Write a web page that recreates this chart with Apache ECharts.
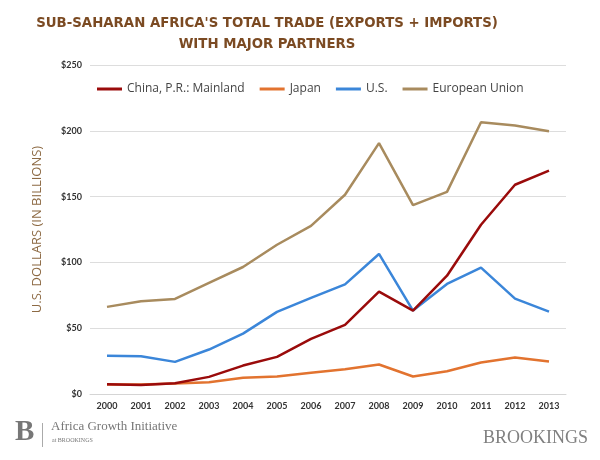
<!DOCTYPE html>
<html><head><meta charset="utf-8">
<script src="https://cdn.jsdelivr.net/npm/echarts@6/dist/echarts.min.js"></script>
<style>html,body{margin:0;padding:0;background:#fff}#c{width:600px;height:460px}</style>
</head><body><div id="c"></div>
<script>
var years = ['2000','2001','2002','2003','2004','2005','2006','2007','2008','2009','2010','2011','2012','2013'];
var china = [7.4, 6.8, 8.2, 13.0, 21.6, 28.2, 41.9, 52.5, 77.8, 63.4, 89.9, 128.6, 159.0, 169.8];
var japan = [7.2, 7.3, 8.0, 9.0, 12.3, 13.3, 16.1, 18.8, 22.4, 13.3, 17.3, 23.9, 27.7, 24.7];
var us = [29.0, 28.7, 24.4, 33.8, 45.9, 62.4, 73.0, 83.3, 106.4, 63.4, 83.6, 96.0, 72.5, 62.6];
var eu = [66.2, 70.4, 72.2, 84.4, 96.5, 113.4, 127.8, 151.4, 190.6, 143.5, 153.6, 206.5, 204.0, 199.7];
var seriesNames = ['China, P.R.: Mainland', 'Japan', 'U.S.', 'European Union'];
var yTicks = [0, 50, 100, 150, 200, 250];

var chart = echarts.init(document.getElementById('c'), null, {renderer: 'canvas'});
function line(name, data, color, z) {
  return {name: name, type: 'line', data: data, symbol: 'none', z: z,
    lineStyle: {color: color, width: 2.5}, itemStyle: {color: color}};
}
chart.setOption({
  animation: false,
  title: {
    text: "SUB-SAHARAN AFRICA'S TOTAL TRADE (EXPORTS + IMPORTS)\nWITH MAJOR PARTNERS",
    left: 262, top: 8, textAlign: 'center',
    textStyle: {fontFamily: 'DejaVu Sans Condensed', fontWeight: 'bold', fontSize: 14.8, color: '#7b4a22', lineHeight: 21}
  },
  legend: {
    top: 78, left: 92, itemWidth: 25, itemHeight: 3, itemGap: 15,
    icon: 'rect',
    data: seriesNames,
    textStyle: {fontFamily: 'Open Sans', fontSize: 12, color: '#444'}
  },
  grid: {left: 90, right: 34, top: 65, bottom: 66, containLabel: false},
  xAxis: {
    type: 'category', data: years, boundaryGap: true,
    axisLine: {lineStyle: {color: '#d5d5d5', width: 1}},
    axisTick: {show: false},
    axisLabel: {fontFamily: 'Lato', fontSize: 9, fontWeight: 'bold', color: '#333', margin: 8}
  },
  yAxis: {
    type: 'value', min: 0, max: 250, interval: 50,
    name: 'U.S. DOLLARS (IN BILLIONS)', nameLocation: 'middle', nameGap: 46, nameRotate: 90,
    nameTextStyle: {fontFamily: 'Open Sans', fontSize: 13, color: '#8d6a44'},
    axisLine: {show: false}, axisTick: {show: false},
    splitLine: {lineStyle: {color: '#dddddd', width: 1}},
    axisLabel: {fontFamily: 'Lato', fontSize: 9, fontWeight: 'bold', color: '#333', margin: 8,
      formatter: function (v) { return '$' + v; }}
  },
  graphic: [
    {type: 'text', left: 15, top: 418, style: {text: 'B', font: 'bold 29px "Liberation Serif"', fill: '#777'}},
    {type: 'rect', shape: {x: 42, y: 423, width: 1, height: 24}, style: {fill: '#aaa'}},
    {type: 'text', left: 51, top: 420, style: {text: 'Africa Growth Initiative', font: '13px "Liberation Serif"', fill: '#777'}},
    {type: 'text', left: 52, top: 437, style: {text: 'at BROOKINGS', font: '6px "Liberation Serif"', fill: '#777'}},
    {type: 'text', left: 483, top: 429, style: {text: 'BROOKINGS', font: '18px "Liberation Serif"', fill: '#808080'}}
  ],
  series: [
    line(seriesNames[3], eu, '#a88b5e', 1),
    line(seriesNames[2], us, '#3b86d9', 2),
    line(seriesNames[1], japan, '#e2732f', 3),
    line(seriesNames[0], china, '#9a0b0b', 4)
  ]
});
</script></body></html>
